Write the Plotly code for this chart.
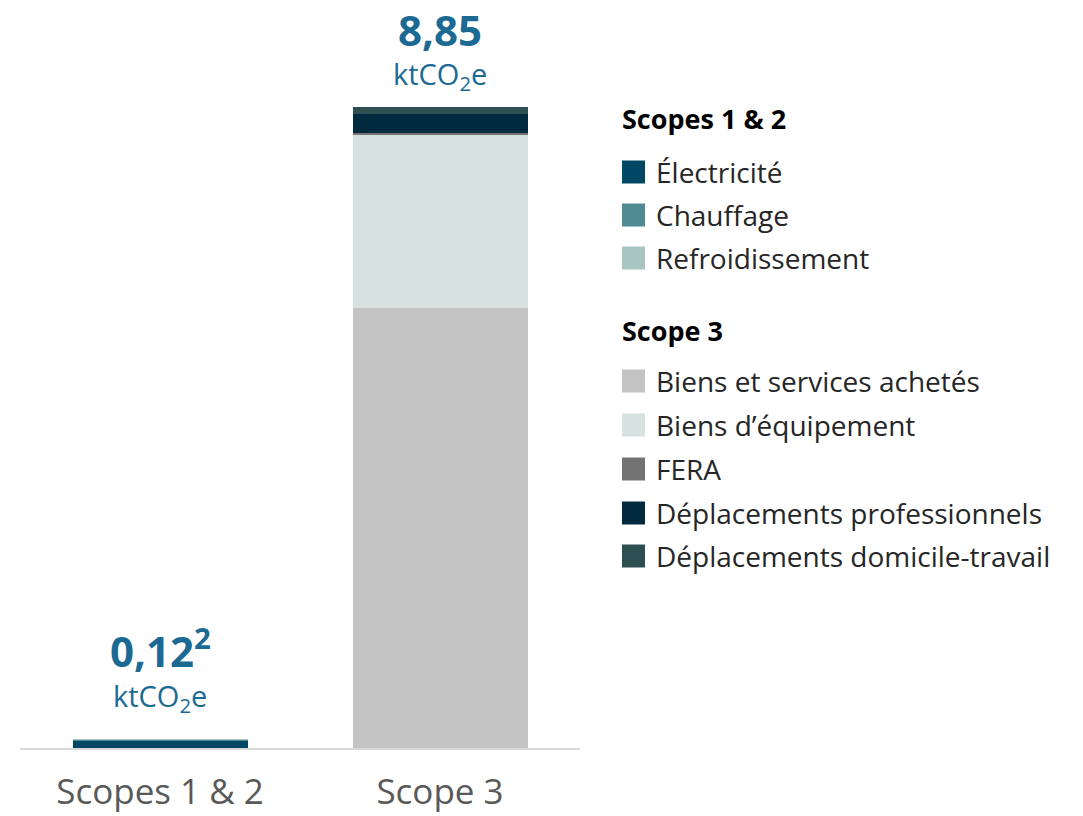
import plotly.graph_objects as go

# categories on the x axis
categories = ["Scopes 1 & 2", "Scope 3"]

# Scopes 1 & 2 segments (ktCO2e)
s12_names = ["Électricité", "Chauffage", "Refroidissement"]
s12_values = [0.10, 0.015, 0.005]
s12_colors = ["#004766", "#4f8a93", "#a8c5c2"]

# Scope 3 segments (ktCO2e)
s3_names = ["Biens et services achetés", "Biens d’équipement", "FERA",
            "Déplacements professionnels", "Déplacements domicile-travail"]
s3_values = [6.08, 2.38, 0.03, 0.26, 0.10]
s3_colors = ["#c3c3c3", "#d5e2e0", "#737373", "#002b3f", "#2e4f52"]

# displayed totals
total_labels = ["0,12<sup>2</sup>", "8,85"]

W, H = 1083, 816
ML, MR, MT, MB = 20, 503, 60, 68
FONT = "Open Sans"
BLUE = "#1c6a93"


def px_x(x):
    return (x - ML) / (W - ML - MR)


def px_y(y):
    return 1 - (y - MT) / (H - MT - MB)


fig = go.Figure()
for name, val, col in zip(s12_names, s12_values, s12_colors):
    fig.add_trace(go.Bar(x=categories, y=[val, 0], name=name,
                         marker=dict(color=col, line=dict(width=0))))
for name, val, col in zip(s3_names, s3_values, s3_colors):
    fig.add_trace(go.Bar(x=categories, y=[0, val], name=name,
                         marker=dict(color=col, line=dict(width=0))))

totals = [sum(s12_values), sum(s3_values)]
value_shift = [91, 78]
unit_shift = [42, 32]
for cat, tot, lab, vs, us in zip(categories, totals, total_labels, value_shift, unit_shift):
    fig.add_annotation(x=cat, y=tot, text=f"<b>{lab}</b>", showarrow=False,
                       yshift=vs, font=dict(family=FONT, size=42, color=BLUE))
    fig.add_annotation(x=cat, y=tot, text="ktCO<sub>2</sub>e", showarrow=False,
                       yshift=us, font=dict(family=FONT, size=29, color=BLUE))

# custom legend with two group titles
legend_groups = [
    ("Scopes 1 & 2", 118, s12_names, s12_colors, [172, 215, 258]),
    ("Scope 3", 331, s3_names, s3_colors, [381, 425, 469, 513, 556]),
]
for title, ty, names, cols, ys in legend_groups:
    fig.add_annotation(xref="paper", yref="paper", x=px_x(620), y=px_y(ty),
                       text=f"<b>{title}</b>", showarrow=False, xanchor="left",
                       yanchor="middle", font=dict(family=FONT, size=27, color="#000000"))
    for name, col, cy in zip(names, cols, ys):
        fig.add_shape(type="rect", xref="paper", yref="paper",
                      x0=px_x(622), x1=px_x(645), y0=px_y(cy - 11.5), y1=px_y(cy + 11.5),
                      fillcolor=col, line=dict(width=0))
        fig.add_annotation(xref="paper", yref="paper", x=px_x(654), y=px_y(cy),
                           text=name, showarrow=False, xanchor="left", yanchor="middle",
                           font=dict(family=FONT, size=28, color="#262626"))

fig.update_layout(
    width=W, height=H,
    barmode="stack", bargap=0.375,
    showlegend=False,
    plot_bgcolor="white", paper_bgcolor="white",
    margin=dict(l=ML, r=MR, t=MT, b=MB, autoexpand=False),
    font=dict(family=FONT),
)
fig.update_xaxes(showline=True, linecolor="#d9d9d9", linewidth=2,
                 tickfont=dict(family=FONT, size=35, color="#595959"),
                 ticklabelstandoff=12, showgrid=False, automargin=False)
fig.update_yaxes(range=[0, 9.5], visible=False, showgrid=False, zeroline=False,
                 automargin=False)

# the page's default body margin would shift the whole figure by 8px
fig.write_html("out.html", config={"displayModeBar": False},
               post_script="document.body.style.margin='0';")
